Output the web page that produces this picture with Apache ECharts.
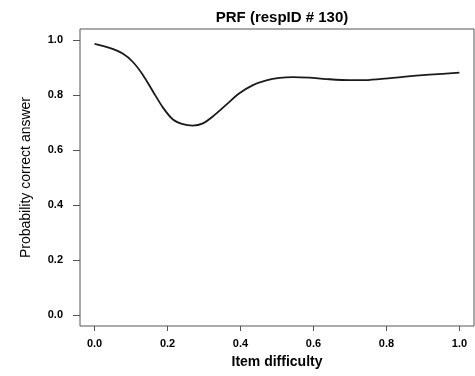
<!DOCTYPE html>
<html>
<head>
<meta charset="utf-8">
<script src="https://cdn.jsdelivr.net/npm/echarts@6/dist/echarts.min.js"></script>
<style>html,body{margin:0;padding:0;background:#fff;}#c{width:475px;height:376px;}</style>
</head>
<body>
<div id="c"></div>
<script>
const xValues = [0, 0.041, 0.078, 0.105, 0.132, 0.160, 0.187, 0.214, 0.242, 0.269, 0.297, 0.324, 0.361, 0.397, 0.434, 0.471, 0.507, 0.543, 0.589, 0.635, 0.699, 0.735, 0.781, 0.845, 0.918, 1.0];
const yValues = [0.986, 0.971, 0.950, 0.920, 0.874, 0.813, 0.755, 0.712, 0.694, 0.689, 0.697, 0.722, 0.765, 0.806, 0.836, 0.853, 0.862, 0.865, 0.863, 0.858, 0.854, 0.854, 0.858, 0.866, 0.874, 0.881];
const xTicks = [0, 0.2, 0.4, 0.6, 0.8, 1.0];
const yTicks = [0, 0.2, 0.4, 0.6, 0.8, 1.0];

const chart = echarts.init(document.getElementById('c'));
const fontFam = '"Liberation Sans", Arial, sans-serif';
chart.setOption({
  animation: false,
  backgroundColor: '#fff',
  title: {
    text: 'PRF (respID # 130)',
    left: 277, top: 5, textAlign: 'center',
    textStyle: {fontFamily: fontFam, fontWeight: 'bold', fontSize: 15, color: '#000'}
  },
  grid: {left: 80, right: 1, top: 29, bottom: 50, show: true, borderColor: '#555', borderWidth: 1, backgroundColor: 'transparent'},
  xAxis: {
    type: 'value', min: -0.04, max: 1.04,
    name: 'Item difficulty', nameLocation: 'middle', nameGap: 29,
    nameTextStyle: {fontFamily: fontFam, fontWeight: 'bold', fontSize: 14, color: '#000'},
    axisLine: {show: false, onZero: false},
    splitLine: {show: false},
    axisTick: {show: true, inside: false, length: 5, customValues: xTicks, lineStyle: {color: '#555'}},
    axisLabel: {customValues: xTicks, margin: 12, fontFamily: fontFam, fontWeight: 'bold', fontSize: 11, color: '#000',
      formatter: v => v.toFixed(1)}
  },
  yAxis: {
    type: 'value', min: -0.04, max: 1.04,
    name: 'Probability correct answer', nameLocation: 'middle', nameGap: 47,
    nameTextStyle: {fontFamily: fontFam, fontSize: 14, color: '#000'},
    axisLine: {show: false, onZero: false},
    splitLine: {show: false},
    axisTick: {show: true, inside: false, length: 7, customValues: yTicks, lineStyle: {color: '#555'}},
    axisLabel: {customValues: yTicks, margin: 17, fontFamily: fontFam, fontWeight: 'bold', fontSize: 11, color: '#000',
      formatter: v => v.toFixed(1)}
  },
  series: [{
    type: 'line',
    data: xValues.map((x, i) => [x, yValues[i]]),
    smooth: 0.3,
    showSymbol: false,
    lineStyle: {color: '#1a1a1a', width: 1.8}
  }]
});
</script>
</body>
</html>
